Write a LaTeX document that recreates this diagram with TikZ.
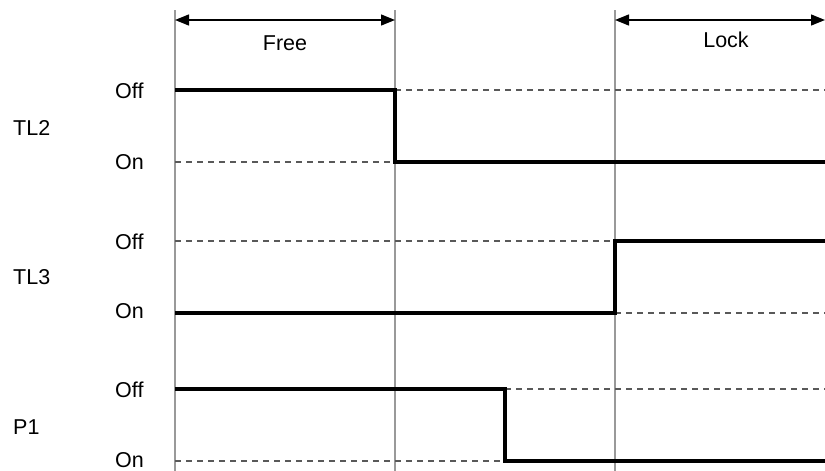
\documentclass[tikz,border=0pt]{standalone}
\usepackage{fontspec}
\setmainfont{Liberation Sans}
\usetikzlibrary{arrows.meta}
\tikzset{
  sigline/.style={line width=3.8pt, line join=miter},
  lvlline/.style={dash pattern=on 6pt off 5pt, line width=1.1pt, black!65},
  guide/.style={line width=1.6pt, black!40},
  span/.style={{Triangle[length=14pt,width=11pt]}-{Triangle[length=14pt,width=11pt]}, line width=1.3pt},
  lbl/.style={font=\fontsize{21.5}{24}\selectfont, inner sep=0pt, anchor=west}
}
\begin{document}
\begin{tikzpicture}[x=1pt,y=-1pt]
\useasboundingbox (0,0) rectangle (825,471);
% time marks
\coordinate (t0) at (175,20);
\coordinate (t1) at (395,20);
\coordinate (t2) at (615,20);
\coordinate (t3) at (825,20);
\draw[guide] (175,10) -- (175,471);
\draw[guide] (395,10) -- (395,471);
\draw[guide] (615,10) -- (615,471);
% intervals
\draw[span] (t0) -- (t1);
\draw[span] (t2) -- (t3);
\node[font=\fontsize{21.5}{24}\selectfont] (free) at (285,43) {Free};
\node[font=\fontsize{21.5}{24}\selectfont] (lock) at (726,40) {Lock};
% signal names
\node[lbl] (tl2) at (13,128) {TL2};
\node[lbl] (tl3) at (13,277) {TL3};
\node[lbl] (p1) at (13,427) {P1};
% levels
\node[lbl] (tl2off) at (115,91) {Off};
\node[lbl] (tl2on) at (115,162) {On};
\node[lbl] (tl3off) at (115,242) {Off};
\node[lbl] (tl3on) at (115,311) {On};
\node[lbl] (p1off) at (115,390) {Off};
\node[lbl] (p1on) at (115,460) {On};
% dashed level lines
\draw[lvlline] (395,90) -- (825,90);
\draw[lvlline] (175,162) -- (395,162);
\draw[lvlline] (175,241) -- (615,241);
\draw[lvlline] (615,313) -- (825,313);
\draw[lvlline] (505,389) -- (825,389);
\draw[lvlline] (175,461) -- (505,461);
% signals
\draw[sigline] (175,90) -- (395,90) -- (395,162) -- (825,162);
\draw[sigline] (175,313) -- (615,313) -- (615,241) -- (825,241);
\draw[sigline] (175,389) -- (505,389) -- (505,461) -- (825,461);
\end{tikzpicture}
\end{document}
